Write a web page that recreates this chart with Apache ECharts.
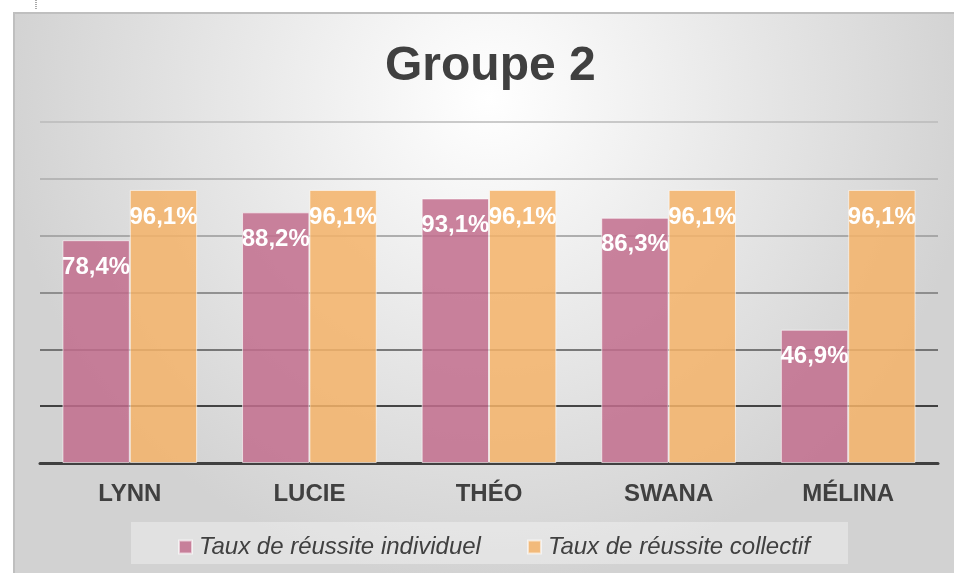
<!DOCTYPE html>
<html>
<head>
<meta charset="utf-8">
<script src="https://cdn.jsdelivr.net/npm/echarts@6/dist/echarts.min.js"></script>
<style>
  html, body { margin: 0; padding: 0; background: #fff; }
  #chart { width: 954px; height: 573px; }
</style>
</head>
<body>
<div id="chart"></div>
<script>
// --- Data ---
const categories = ['LYNN', 'LUCIE', 'THÉO', 'SWANA', 'MÉLINA'];
const individuel = [78.4, 88.2, 93.1, 86.3, 46.9];
const collectif = [96.1, 96.1, 96.1, 96.1, 96.1];
const seriesNames = ['Taux de réussite individuel', 'Taux de réussite collectif'];

const FONT = '"Liberation Sans", Arial, sans-serif';
const TEXT_COLOR = '#404040';

// gridline shade goes from dark (low) to light (top)
const gridColors = ['#404040', '#111111', '#555555', '#777777', '#999999', '#ababab', '#bababa'];

const chart = echarts.init(document.getElementById('chart'));

function labelFmt(p) {
  return p.value.toFixed(1).replace('.', ',') + '%';
}

function makeSeries(name, data, color) {
  return {
    name,
    type: 'bar',
    data,
    barGap: '0%',
    barCategoryGap: '25%',
    itemStyle: {
      color,
      borderColor: 'rgba(255,255,255,0.6)',
      borderWidth: 1,
    },
    label: {
      show: true,
      position: 'insideTop',
      distance: 15,
      formatter: labelFmt,
      color: '#fff',
      fontFamily: FONT,
      fontWeight: 'bold',
      fontSize: 24,
    },
  };
}

const option = {
  animation: false,
  graphic: [
    {
      type: 'rect',
      z: -10,
      shape: { x: 14, y: 13, width: 950, height: 570 },
      style: {
        fill: new echarts.graphic.RadialGradient(0.5, 0.15, 0.85, [
          { offset: 0, color: '#ffffff' },
          { offset: 1, color: '#d2d2d2' },
        ]),
        stroke: '#bfbfbf',
        lineWidth: 2,
      },
    },
    {
      type: 'line',
      z: -5,
      shape: { x1: 36, y1: 0, x2: 36, y2: 10 },
      style: { stroke: '#555', lineWidth: 1, lineDash: [1, 1] },
    },
    {
      type: 'rect',
      z: -5,
      shape: { x: 131, y: 522, width: 717, height: 42 },
      style: { fill: 'rgba(255,255,255,0.35)' },
    },
  ],
  title: {
    text: 'Groupe 2',
    left: 380,
    top: 38,
    textStyle: {
      fontFamily: FONT,
      fontSize: 48,
      fontWeight: 'bold',
      color: TEXT_COLOR,
    },
  },
  legend: {
    data: seriesNames,
    left: 173,
    top: 530,
    icon: 'rect',
    itemWidth: 13,
    itemHeight: 13,
    itemGap: 46,
    textStyle: {
      fontFamily: FONT,
      fontSize: 24,
      fontStyle: 'italic',
      color: TEXT_COLOR,
      padding: [0, 0, 0, 2],
    },
  },
  grid: {
    left: 40,
    right: 16,
    top: 122,
    bottom: 110,
    containLabel: false,
  },
  xAxis: {
    type: 'category',
    data: categories,
    axisLine: { show: true, lineStyle: { color: TEXT_COLOR, width: 3 } },
    axisTick: { show: false },
    axisLabel: {
      margin: 19,
      fontFamily: FONT,
      fontSize: 24,
      fontWeight: 'bold',
      color: TEXT_COLOR,
    },
  },
  yAxis: {
    type: 'value',
    min: 0,
    max: 120,
    interval: 20,
    axisLabel: { show: false },
    axisLine: { show: false },
    axisTick: { show: false },
    splitLine: {
      show: true,
      lineStyle: { color: gridColors, width: 1.5 },
    },
  },
  series: [
    makeSeries(seriesNames[0], individuel, 'rgba(194,109,141,0.85)'),
    makeSeries(seriesNames[1], collectif, 'rgba(244,179,105,0.85)'),
  ],
};

chart.setOption(option);
</script>
</body>
</html>
